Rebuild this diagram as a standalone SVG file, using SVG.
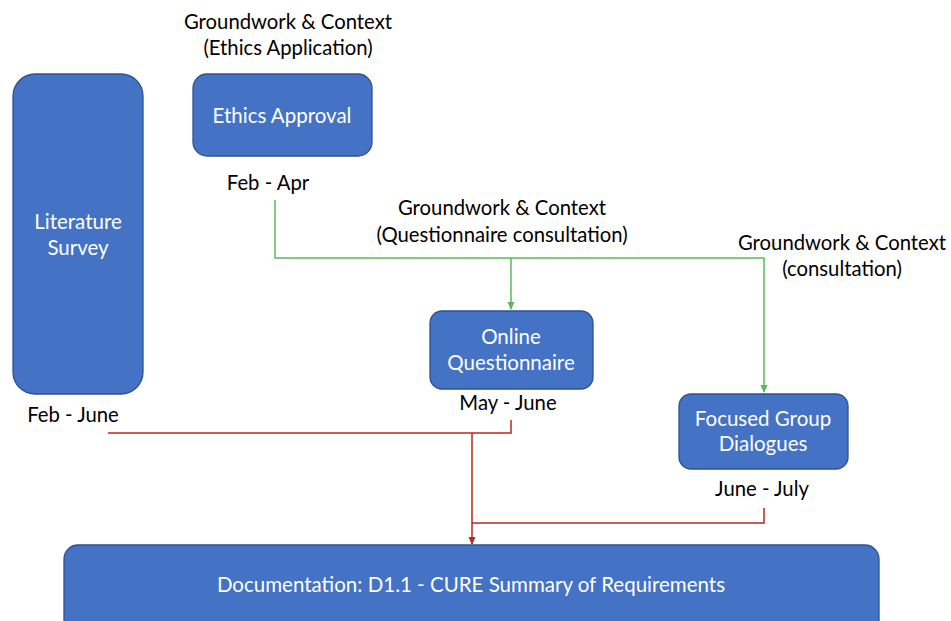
<svg xmlns="http://www.w3.org/2000/svg" width="951" height="621" viewBox="0 0 951 621">
  <style>
    .box { fill: #4472C4; stroke: #2F528F; stroke-width: 1.3; }
    .in { fill: #FFFFFF; font-family: Lato, "Liberation Sans", sans-serif; font-size: 20.5px; text-anchor: middle; }
    .lbl { fill: #000000; font-family: Lato, "Liberation Sans", sans-serif; font-size: 20.3px; text-anchor: middle; }
    .green { fill: none; stroke: #5CB85C; stroke-width: 1.5; }
    .red { fill: none; stroke: #B8281E; stroke-width: 1.5; }
  </style>
  <defs>
    <marker id="ag" markerWidth="8" markerHeight="8" refX="7" refY="4" orient="auto" markerUnits="userSpaceOnUse">
      <path d="M0,0.5 L8,4 L0,7.5 Z" fill="#5CB85C"/>
    </marker>
    <marker id="ar" markerWidth="8" markerHeight="8" refX="7" refY="4" orient="auto" markerUnits="userSpaceOnUse">
      <path d="M0,0.5 L8,4 L0,7.5 Z" fill="#B8281E"/>
    </marker>
  </defs>
  <rect width="951" height="621" fill="#FFFFFF"/>

  <g id="connectors">
    <path class="green" d="M275,200 V258 H764 V392" marker-end="url(#ag)"/>
    <path class="green" d="M511,258 V309" marker-end="url(#ag)"/>
    <path class="red" d="M108,433 H511 V420"/>
    <path class="red" d="M472,433 V544" marker-end="url(#ar)"/>
    <path class="red" d="M472,523 H764 V508"/>
  </g>

  <g id="literature">
    <rect class="box" x="13" y="74" width="130" height="320" rx="22"/>
    <text class="in" x="78" y="229">Literature</text>
    <text class="in" x="78" y="255">Survey</text>
    <text class="lbl" x="73" y="422">Feb - June</text>
  </g>

  <g id="ethics">
    <text class="lbl" x="288" y="29">Groundwork &amp; Context</text>
    <text class="lbl" x="288" y="55">(Ethics Application)</text>
    <rect class="box" x="193" y="74" width="179" height="82" rx="14"/>
    <text class="in" x="282" y="123">Ethics Approval</text>
    <text class="lbl" x="268" y="190">Feb - Apr</text>
  </g>

  <g id="questionnaire">
    <text class="lbl" x="502" y="215">Groundwork &amp; Context</text>
    <text class="lbl" x="502" y="242">(Questionnaire consultation)</text>
    <rect class="box" x="430" y="311" width="163" height="78" rx="12"/>
    <text class="in" x="511" y="344">Online</text>
    <text class="in" x="511" y="370">Questionnaire</text>
    <text class="lbl" x="508" y="410">May - June</text>
  </g>

  <g id="focus-groups">
    <text class="lbl" x="842" y="250">Groundwork &amp; Context</text>
    <text class="lbl" x="842" y="276">(consultation)</text>
    <rect class="box" x="679" y="394" width="169" height="75" rx="12"/>
    <text class="in" x="763" y="426">Focused Group</text>
    <text class="in" x="763" y="451">Dialogues</text>
    <text class="lbl" x="762" y="496">June - July</text>
  </g>

  <g id="documentation">
    <rect class="box" x="64" y="545" width="815" height="100" rx="14"/>
    <text class="in" x="471" y="592">Documentation: D1.1 - CURE Summary of Requirements</text>
  </g>
</svg>
